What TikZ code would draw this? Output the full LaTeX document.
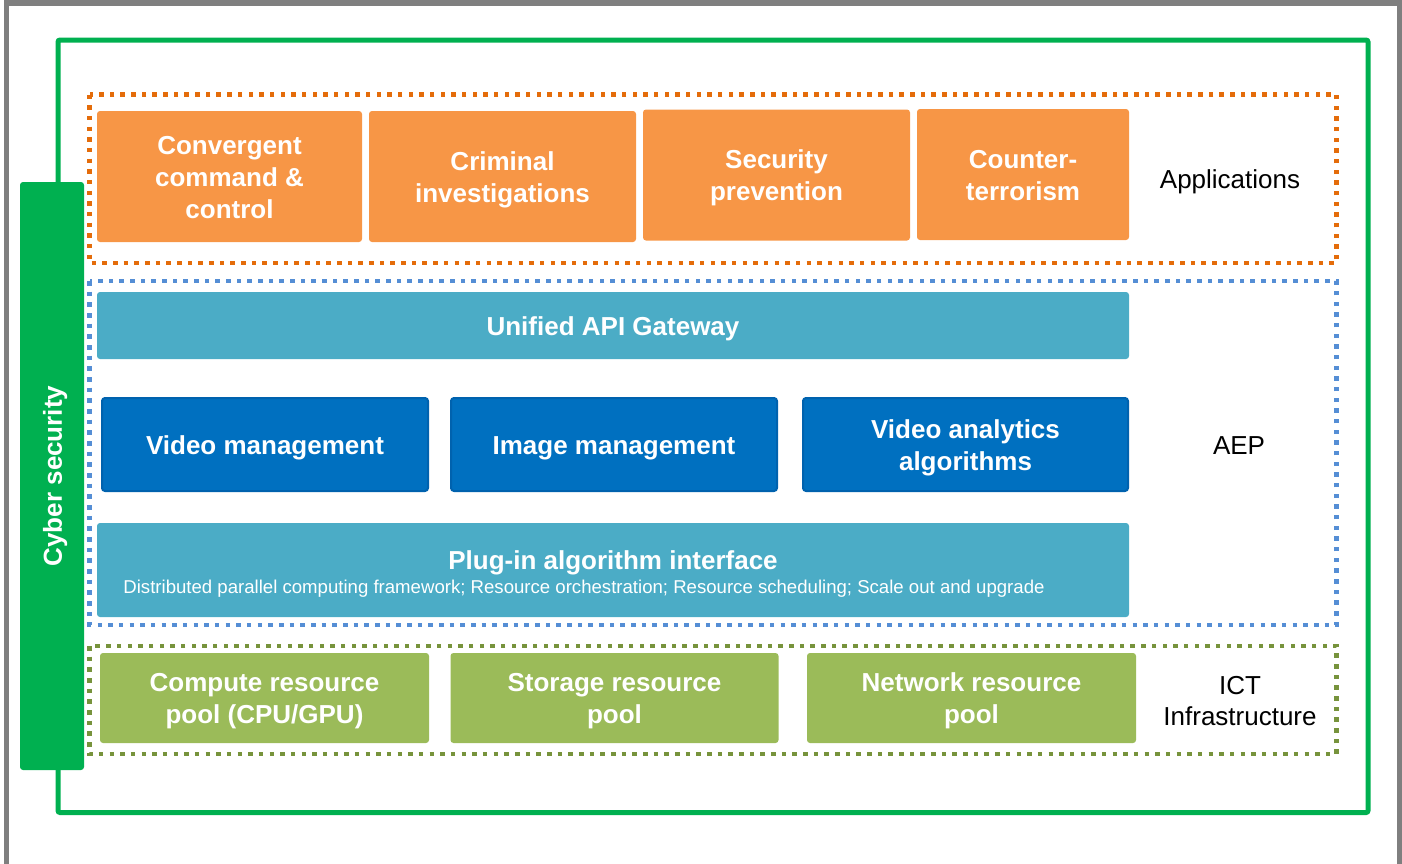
\documentclass[tikz,border=0pt]{standalone}
\usepackage{fontspec}
\setmainfont{Liberation Sans}
\definecolor{grayframe}{HTML}{7F7F7F}
\definecolor{cyber}{HTML}{00B050}
\definecolor{orfill}{HTML}{F79646}
\definecolor{ordot}{HTML}{E46C0A}
\definecolor{ltblue}{HTML}{4BACC6}
\definecolor{dkblue}{HTML}{0070C0}
\definecolor{dkblueedge}{HTML}{0062AE}
\definecolor{bldot}{HTML}{558ED5}
\definecolor{grfill}{HTML}{9BBB59}
\definecolor{grdot}{HTML}{77933C}
\newcommand{\tstr}{\rule{0pt}{25pt}}
\newcommand{\bstr}{\rule[-5.5pt]{0pt}{5.5pt}}
\tikzset{
  boxbase/.style={inner sep=0pt, outer sep=0pt, rounded corners=3pt, align=center,
    text=white, font=\fontsize{26}{32}\selectfont\bfseries},
  obox/.style={boxbase, fill=orfill},
  lbbox/.style={boxbase, fill=ltblue},
  dbbox/.style={boxbase, fill=dkblue, draw=dkblueedge, line width=2pt},
  gbox/.style={boxbase, fill=grfill},
  dotframe/.style={line width=4.5pt, dash pattern=on 4.5pt off 6.17pt},
  layerlabel/.style={inner sep=0pt, align=center, font=\fontsize{26}{31}\selectfont}
}
\begin{document}
\begin{tikzpicture}[x=1pt,y=-1pt]
\useasboundingbox (0,0) rectangle (1402,863);
\begin{scope}
\clip (0,0) rectangle (1402,863);
\draw[grayframe, line width=5.5pt] (6.5,880) -- (6.5,3) -- (1399.5,3) -- (1399.5,880);
\end{scope}
% outer green frame
\draw[cyber, line width=5pt, rounded corners=2pt] (58,40) rectangle (1368,812.5);
% dotted layer frames
\draw[dotframe, ordot] (89.5,94.5) rectangle (1336.5,263);
\draw[dotframe, bldot] (89.5,281) rectangle (1336.5,625);
\draw[dotframe, grdot] (89.5,646) rectangle (1336.5,754);
% cyber security bar
\node[boxbase, fill=cyber, rotate=90, minimum width=588pt, minimum height=64pt] (cyber) at (52,476) {\tstr Cyber security\bstr};
% applications
\node[obox, minimum width=265pt, minimum height=131pt] (a1) at (229.5,176.5) {\tstr Convergent\\command \&\\control\bstr};
\node[obox, minimum width=267pt, minimum height=131pt] (a2) at (502.5,176.5) {\tstr Criminal\\investigations\bstr};
\node[obox, minimum width=267pt, minimum height=131pt] (a3) at (776.5,175) {\tstr Security\\prevention\bstr};
\node[obox, minimum width=212pt, minimum height=131pt] (a4) at (1023,174.5) {\tstr Counter-\\terrorism\bstr};
\node[layerlabel] (lapp) at (1230,181.5) {Applications};
% AEP
\node[lbbox, minimum width=1032pt, minimum height=67pt] (api) at (613,325.5) {\tstr Unified API Gateway\bstr};
\node[dbbox, minimum width=326pt, minimum height=93pt] (vm) at (265,444.5) {\tstr Video management\bstr};
\node[dbbox, minimum width=326pt, minimum height=93pt] (im) at (614,444.5) {\tstr Image management\bstr};
\node[dbbox, minimum width=325pt, minimum height=93pt] (va) at (965.5,444.5) {\tstr Video analytics\\algorithms\bstr};
\node[lbbox, minimum width=1032pt, minimum height=94pt, font=\fontsize{18.6}{24}\selectfont] (plug) at (613,570) {{\fontsize{26}{24}\selectfont\bfseries\rule{0pt}{27.5pt}Plug-in algorithm interface}\\\mbox{Distributed parallel computing framework; Resource orchestration; Resource scheduling; Scale out and upgrade\kern58pt}\bstr};
\node[layerlabel] (laep) at (1239,446) {AEP};
% ICT
\node[gbox, minimum width=329pt, minimum height=90pt] (cp) at (264.5,698) {\tstr Compute resource\\pool (CPU/GPU)\bstr};
\node[gbox, minimum width=328pt, minimum height=90pt] (sp) at (614.5,698) {\tstr Storage resource\\pool\bstr};
\node[gbox, minimum width=329pt, minimum height=90pt] (np) at (971.5,698) {\tstr Network resource\\pool\bstr};
\node[layerlabel] (lict) at (1240,701) {ICT\\Infrastructure};
\end{tikzpicture}
\end{document}
